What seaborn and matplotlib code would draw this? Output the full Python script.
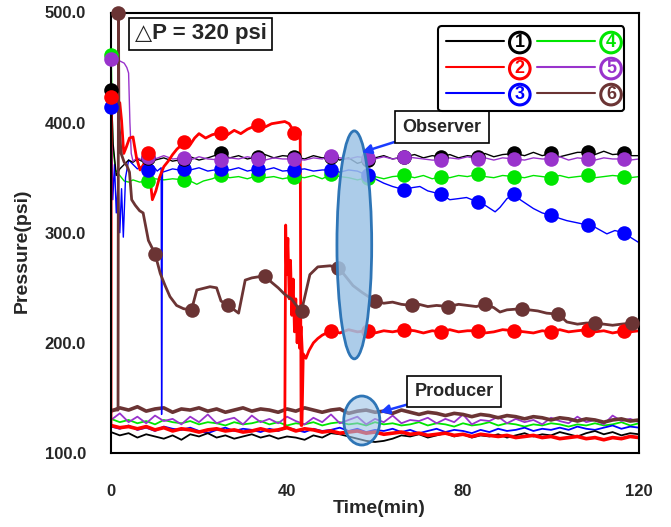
import numpy as np
import pandas as pd
import matplotlib
matplotlib.use('Agg')
import matplotlib.pyplot as plt
import seaborn as sns
from matplotlib.lines import Line2D
from matplotlib.patches import Ellipse

# ---- channel colours / names ----
names = ['1', '2', '3', '4', '5', '6']
colors = ['#000000', '#ff0000', '#0000ff', '#00e600', '#9933cc', '#6b3434']

# ---- observer pressures (psi) vs time (min) ----
black_t = [0, 0.05, 0.5, 1.2, 2, 3, 4, 5, 6, 7, 8.3, 10, 12, 14, 16.7, 18, 20, 22, 25, 27, 29, 31, 33.3, 35, 37, 39,
           41.7, 44, 46, 48, 50, 52, 54, 56, 58.3, 60, 62, 64, 66.7, 69, 71, 73, 75, 77, 79, 81, 83.3, 85, 87, 89,
           91.7, 94, 96, 98, 100, 102, 104, 106, 108.3, 110, 112, 114, 116.7, 118, 120]
black_v = [119, 430, 380, 352, 358, 362, 366, 364, 367, 365, 368, 366, 368, 365, 367, 369, 366, 368, 372, 368, 370,
           367, 369, 371, 368, 370, 369, 367, 370, 368, 369, 366, 368, 363, 366, 368, 370, 367, 369, 371, 368, 370,
           369, 371, 368, 370, 369, 372, 369, 371, 372, 370, 373, 370, 372, 369, 371, 373, 373, 371, 374, 371, 372,
           370, 370]

red_t = [0, 0.05, 1, 2, 2.4, 2.9, 3.5, 4.2, 5, 5.8, 6.6, 7.4, 8.3, 9.0, 9.4, 10.2, 11, 12, 13, 14, 15, 16.7, 18, 19,
         20, 21.5, 23, 25, 26.5, 28, 29.5, 31, 33.3, 35, 36.5, 38, 39.5, 40.5, 41.7, 42.5, 43.0, 43.2, 43.4, 43.7,
         44.3, 45, 46, 47, 48, 50, 52, 54, 56, 58.3, 60, 62, 64, 66.7, 69, 71, 73, 75, 77, 79, 81, 83.3, 85, 87, 89,
         91.7, 94, 96, 98, 100, 102, 104, 106, 108.3, 110, 112, 114, 116.7, 118, 120]
red_v = [125, 423, 421, 418, 402, 372, 378, 386, 387, 368, 357, 362, 372, 345, 330, 338, 350, 360, 365, 371, 376,
         382, 380, 386, 390, 386, 389, 391, 389, 393, 390, 394, 398, 396, 399, 400, 401, 399, 391, 394, 392, 125,
         125, 190, 186, 193, 200, 204, 207, 211, 209, 212, 210, 211, 209, 211, 210, 212, 211, 209, 211, 210, 212,
         210, 211, 211, 209, 210, 212, 211, 210, 209, 211, 210, 212, 210, 211, 212, 210, 211, 209, 211, 210, 211]

blue_t = [0, 0.05, 0.4, 0.8, 1.2, 1.6, 2.0, 2.4, 2.8, 3.3, 4, 5, 6, 7, 8.3, 9.5, 10.5, 11.4, 11.5, 11.7, 12.5, 14,
          15.5, 16.7, 18, 20, 22, 25, 27, 29, 31, 33.3, 35, 37, 39, 41.7, 44, 46, 48, 50, 52, 54, 56, 58.3, 60, 62,
          64, 66.7, 68.5, 70.2, 72, 75, 77, 79, 80.8, 83.3, 85, 87.3, 88.4, 90, 91.7, 93, 94.5, 96, 98, 100, 102,
          103.6, 106, 108.3, 110, 112.7, 114.5, 116.7, 118, 120]
blue_v = [120, 414, 330, 362, 318, 345, 300, 340, 296, 350, 366, 362, 358, 360, 357, 361, 356, 359, 135, 355, 356,
          358, 357, 358, 357, 359, 356, 358, 357, 359, 356, 358, 357, 359, 356, 357, 358, 356, 357, 357, 355, 357,
          356, 352, 349, 345, 342, 339, 341, 342, 338, 335, 330, 331, 332, 328, 325, 319, 323, 331, 335, 330, 326,
          322, 318, 316, 313, 311, 309, 307, 305, 299, 302, 300, 296, 291]

green_t = [0, 0.05, 0.4, 1, 2, 3, 4, 5, 6.5, 8.3, 10, 12, 14, 16.7, 18, 19.5, 21, 23, 25, 27, 29, 31, 33.3, 35, 37,
           39, 41.7, 44, 46, 48, 50, 52, 54, 56, 58.3, 60, 62, 64, 66.7, 69, 71, 73, 75, 77, 79, 81, 83.3, 85, 87,
           89, 91.7, 94, 96, 98, 100, 102, 104, 106, 108.3, 110, 112, 114, 116.7, 118, 120]
green_v = [128, 461, 380, 357, 352, 347, 346, 348, 346, 347, 349, 348, 349, 348, 347, 344, 347, 349, 352, 350, 351,
           349, 352, 350, 351, 349, 351, 350, 352, 349, 353, 351, 350, 348, 350, 351, 349, 351, 352, 350, 352, 349,
           351, 350, 352, 351, 353, 351, 350, 352, 351, 350, 352, 351, 350, 352, 350, 351, 352, 350, 351, 352, 351,
           350, 351]

purple_t = [0, 0.05, 1, 2, 3, 3.6, 4.0, 4.3, 4.6, 5, 6, 7, 8.3, 10, 12, 14, 16.7, 18, 20, 22, 25, 27, 29, 31, 33.3,
            35, 37, 39, 41.7, 44, 46, 48, 50, 52, 54, 56, 58.3, 60, 62, 64, 66.7, 69, 71, 73, 75, 77, 79, 81, 83.3,
            85, 87, 89, 91.7, 94, 96, 98, 100, 102, 104, 106, 108.3, 110, 112, 114, 116.7, 118, 120]
purple_v = [130, 458, 457, 456, 454, 450, 445, 400, 372, 365, 368, 366, 369, 367, 370, 367, 368, 366, 369, 367, 366,
            368, 367, 369, 367, 366, 368, 367, 367, 366, 368, 367, 370, 368, 367, 369, 368, 367, 369, 367, 369, 368,
            367, 366, 366, 368, 367, 369, 367, 368, 366, 368, 367, 366, 368, 367, 367, 369, 366, 368, 367, 366, 368,
            367, 367, 366, 367]

brown_t = [0, 1.6, 1.7, 1.8, 2.3, 3.0, 3.6, 4.2, 4.7, 5.5, 6.5, 7.3, 8.5, 10, 11.2, 12.3, 13.4, 14.9, 16.5, 18.3,
           19.5, 20.5, 22.5, 24, 25, 26.7, 28, 29, 30.5, 32, 33.5, 35, 36.5, 38, 39.5, 41, 42.5, 43.3, 45.2, 47, 49.8,
           51.7, 53, 55, 57, 58.9, 60, 62, 64, 66, 68.3, 70, 72, 74, 76.7, 79, 81, 83, 85, 87, 88.4, 90, 93.3, 95, 97,
           99, 101.7, 103.6, 106, 108, 110, 112, 114, 116, 118.3, 120]
brown_v = [139, 139, 500, 400, 372, 364, 361, 355, 330, 325, 320, 318, 293, 281, 263, 252, 242, 234, 231, 230, 248,
           249, 251, 250, 238, 234, 230, 227, 257, 259, 260, 261, 255, 250, 244, 240, 232, 229, 262, 269, 270, 268,
           262, 252, 246, 241, 238, 236, 237, 235, 234, 235, 233, 234, 233, 235, 234, 233, 235, 232, 228, 230, 231,
           230, 229, 227, 226, 219, 217, 218, 218, 217, 216, 217, 218, 216]

# marker (sample) times
mark_t = [0.05, 8.3, 16.7, 25, 33.3, 41.7, 50, 58.3, 66.7, 75, 83.3, 91.7, 100, 108.3, 116.7]
mark_t6 = [1.7, 10, 18.3, 26.7, 35, 43.3, 51.7, 60, 68.3, 76.7, 85, 93.3, 101.7, 110, 118.3]

# ---- producer pressures (psi), sampled every 2 min ----
prod_t = list(range(0, 121, 2))
black_p = [119, 116, 118, 114, 117, 115, 113, 116, 112, 117, 115, 118, 114, 116, 113, 115, 117, 114, 116, 113, 115,
           114, 112, 116, 114, 118, 117, 115, 113, 111, 110, 111, 113, 116, 115, 117, 114, 116, 118, 115, 117, 114,
           116, 115, 117, 114, 116, 118, 115, 117, 116, 119, 117, 115, 118, 120, 117, 119, 116, 118, 117]
red_p = [125, 123, 124, 122, 124, 121, 123, 120, 122, 121, 119, 121, 122, 120, 121, 119, 120, 122, 120, 121, 123,
         120, 122, 121, 119, 120, 118, 119, 120, 118, 119, 117, 118, 119, 117, 118, 116, 117, 118, 116, 117, 115,
         117, 116, 115, 116, 114, 115, 116, 114, 115, 113, 114, 115, 113, 114, 112, 114, 113, 115, 114]
blue_p = [124, 122, 125, 121, 123, 120, 124, 122, 121, 123, 120, 118, 121, 123, 120, 122, 121, 119, 122, 120, 123,
          121, 119, 122, 120, 121, 123, 120, 122, 119, 121, 120, 122, 119, 121, 118, 120, 122, 119, 121, 120, 118,
          121, 119, 122, 120, 121, 123, 120, 122, 121, 123, 121, 124, 122, 121, 123, 125, 122, 124, 123]
green_p = [131, 128, 130, 127, 129, 126, 130, 128, 127, 129, 126, 128, 127, 125, 128, 126, 127, 129, 126, 128, 125,
           127, 126, 128, 125, 127, 128, 126, 127, 125, 128, 126, 127, 125, 126, 128, 125, 127, 126, 124, 127, 125,
           126, 128, 125, 127, 126, 124, 126, 125, 127, 126, 124, 126, 125, 127, 125, 126, 128, 125, 127]
purple_p = [130, 136, 128, 133, 127, 134, 129, 131, 126, 133, 128, 135, 127, 130, 132, 126, 134, 128, 131, 127, 133,
            129, 126, 132, 128, 135, 127, 130, 133, 126, 131, 128, 134, 127, 130, 129, 132, 127, 131, 128, 135, 126,
            130, 129, 133, 127, 131, 128, 130, 126, 132, 129, 127, 133, 128, 130, 126, 134, 129, 131, 128]
brown_p = [138, 141, 139, 142, 138, 140, 141, 137, 140, 139, 141, 138, 140, 137, 139, 141, 138, 140, 139, 137, 140,
           138, 141, 139, 137, 139, 140, 136, 138, 139, 137, 138, 136, 139, 137, 135, 137, 136, 134, 136, 135, 133,
           135, 134, 132, 134, 133, 131, 133, 132, 130, 132, 131, 129, 131, 130, 128, 130, 131, 129, 130]

# producer #2 pressure spike around 40 min
spike_t = [39.5, 39.7, 39.9, 40.2, 40.5, 40.8, 41.1, 41.4, 41.7, 42.0, 42.3, 42.6, 42.9, 43.2, 43.5]
spike_v = [123, 307, 262, 295, 240, 275, 225, 258, 210, 240, 200, 228, 195, 215, 190]

obs = {'1': (black_t, black_v), '2': (red_t, red_v), '3': (blue_t, blue_v),
       '4': (green_t, green_v), '5': (purple_t, purple_v), '6': (brown_t, brown_v)}
prod = {'1': black_p, '2': red_p, '3': blue_p, '4': green_p, '5': purple_p, '6': brown_p}
for k in obs:
    assert len(obs[k][0]) == len(obs[k][1]), (k, len(obs[k][0]), len(obs[k][1]))
    assert len(prod[k]) == len(prod_t), (k, len(prod[k]))

sns.set_theme(style='white')
plt.rcParams['font.family'] = ['Liberation Sans', 'DejaVu Sans']
plt.rcParams['font.weight'] = 'bold'

fig = plt.figure(figsize=(6.71, 5.27), dpi=100)
ax = fig.add_axes([111 / 671, 1 - 453 / 527, 528 / 671, 440.5 / 527])

thick = {'2': 2.0, '6': 2.0}
prod_thick = {'2': 2.6, '6': 2.6}
draw_order = ['4', '3', '1', '5', '2', '6']
col = dict(zip(names, colors))

# producers first
for k in draw_order:
    sns.lineplot(x=prod_t, y=prod[k], color=col[k], lw=prod_thick.get(k, 1.3), estimator=None, sort=False, ax=ax)
sns.lineplot(x=spike_t, y=spike_v, color=col['2'], lw=2.0, estimator=None, sort=False, ax=ax)

# observers with sample markers
for k in draw_order:
    t, v = obs[k]
    df = pd.DataFrame({'t': t, 'p': v})
    sns.lineplot(data=df, x='t', y='p', color=col[k], lw=thick.get(k, 1.0), estimator=None, sort=False, ax=ax)
    mt = mark_t6 if k == '6' else mark_t
    m = df[np.isin(np.round(df['t'], 2), np.round(mt, 2))]
    sns.scatterplot(data=m, x='t', y='p', color=col[k], s=110, linewidth=0, ax=ax, clip_on=False, zorder=3)

ax.set_xlim(0, 120)
ax.set_ylim(100, 500)
ax.set_xticks([0, 40, 80, 120])
ax.set_xticks([20, 60, 100], minor=True)
ax.set_yticks([100, 200, 300, 400, 500])
ax.set_yticks([150, 250, 350, 450], minor=True)
ax.set_yticklabels([f'{v:.1f}' for v in [100, 200, 300, 400, 500]])
ax.tick_params(which='major', direction='out', length=13, width=1.5, labelsize=12, color='black')
ax.tick_params(which='minor', direction='out', length=7, width=1.5, color='black')
ax.tick_params(axis='x', pad=9)
ax.tick_params(axis='y', pad=5)
for s in ax.spines.values():
    s.set_color('black')
    s.set_linewidth(1.5)

ax.set_xlabel('Time(min)', fontsize=14, fontweight='bold')
ax.set_ylabel('Pressure(psi)', fontsize=14, fontweight='bold')
ax.xaxis.set_label_coords(0.508, -0.107)
ax.yaxis.set_label_coords(-0.152, 0.459)

# legend
handles = [Line2D([], [], color=c, lw=1.5) for c in colors]
leg = ax.legend(handles, names, ncol=2, loc='upper right', bbox_to_anchor=(0.989, 0.99),
                handlelength=3.2, handletextpad=0.6, columnspacing=0.7, labelspacing=0.5,
                fontsize=13, frameon=True, fancybox=True, edgecolor='black', framealpha=1, borderpad=0.45)
leg.get_frame().set_linewidth(1.5)
for txt, c in zip(leg.get_texts(), colors):
    txt.set_color(c)
    txt.set_fontweight('bold')
    txt.set_bbox(dict(boxstyle='circle,pad=0.1', fc='white', ec=c, lw=2.2))

# annotations
ax.text(0.045, 0.952, '△P = 320 psi', transform=ax.transAxes, fontsize=16, fontweight='bold',
        ha='left', va='center', bbox=dict(boxstyle='square,pad=0.25', fc='white', ec='black', lw=1.2))

ax.add_patch(Ellipse((55.3, 289), 7.9, 207, fc=(0.62, 0.77, 0.90, 0.85), ec='#2e75b6', lw=2, zorder=4))
ax.add_patch(Ellipse((57.0, 129.5), 8.2, 44.5, fc=(0.62, 0.77, 0.90, 0.6), ec='#2e75b6', lw=2, zorder=4))

arrow = dict(arrowstyle='-|>', color='#1a3cff', lw=1.8, mutation_scale=14, shrinkA=0, shrinkB=0)
ax.annotate('Observer', xy=(57.0, 373), xytext=(75.2, 396), fontsize=13, fontweight='bold',
            ha='center', va='center', arrowprops=arrow, zorder=5,
            bbox=dict(boxstyle='square,pad=0.4', fc='white', ec='black', lw=1.2))
ax.annotate('Producer', xy=(61.1, 137), xytext=(78.0, 156), fontsize=13, fontweight='bold',
            ha='center', va='center', arrowprops=arrow, zorder=5,
            bbox=dict(boxstyle='square,pad=0.4', fc='white', ec='black', lw=1.2))

fig.savefig('out.png', dpi=100)
